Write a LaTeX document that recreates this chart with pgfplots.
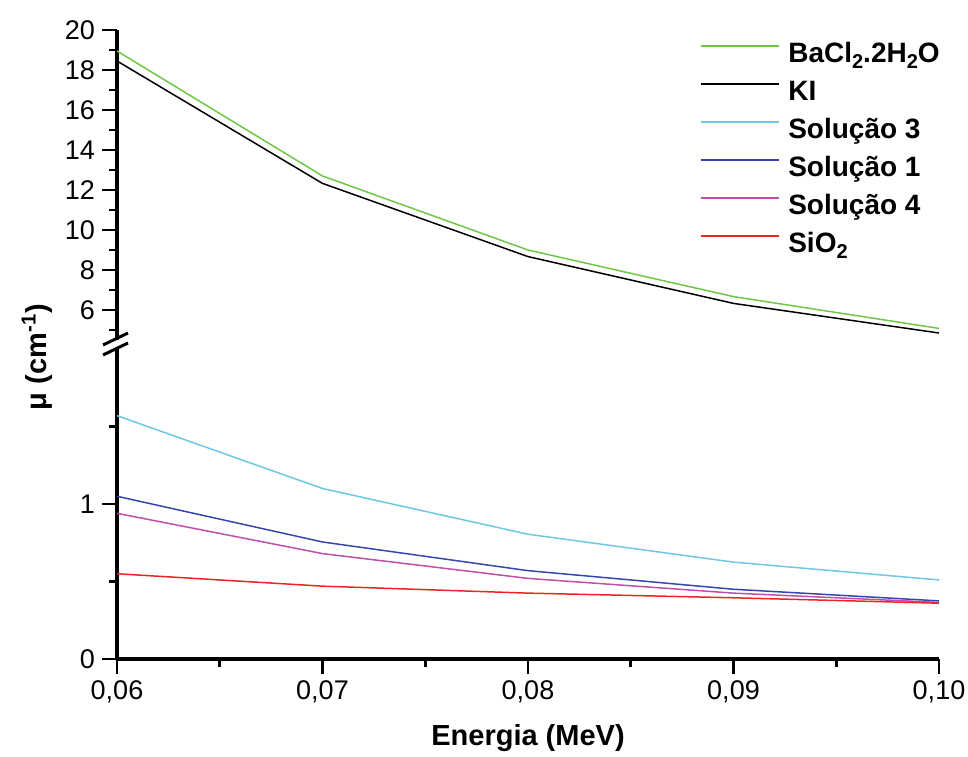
\documentclass[border=0pt]{standalone}
\usepackage{pgfplots}
\pgfplotsset{compat=1.18}
\usepackage{fontspec}
\setmainfont{Liberation Sans}
\definecolor{cgreen}{RGB}{110,200,70}
\definecolor{ccyan}{RGB}{110,200,225}
\definecolor{cblue}{RGB}{55,70,175}
\definecolor{cmag}{RGB}{190,80,170}
\definecolor{cred}{RGB}{240,35,35}
\newcommand{\lsub}[1]{\raisebox{-0.45ex}{\fontsize{10}{11}\selectfont #1}}
\begin{document}
\begin{tikzpicture}
\path[use as bounding box] (-58.5pt,-48.5pt) rectangle (425.5pt,329.5pt);
\pgfplotsset{
  common/.style={
    scale only axis, width=411pt, height=155pt,
    xmin=0.06, xmax=0.10, enlargelimits=false,
    axis line style={line width=1.7pt,-},
    tick style={line width=1.4pt,black},
    major tick length=7.5pt, minor tick length=4pt,
    tick align=outside,
    ticklabel style={font=\fontsize{13.5}{15}\selectfont},
    /pgf/number format/assume math mode=true,
    scaled ticks=false,
    every axis plot/.append style={line width=0.75pt},
  }
}
\begin{axis}[common,
  ymin=0, ymax=2,
  axis x line*=bottom, axis y line*=left,
  xtick={0.06,0.07,0.08,0.09,0.10},
  minor xtick={0.065,0.075,0.085,0.095},
  ytick={0,1}, minor ytick={0.5,1.5},
  xticklabel style={/pgf/number format/.cd, fixed, fixed zerofill, precision=2, use comma},
]
\addplot[ccyan] coordinates {(0.06,1.57) (0.07,1.10) (0.08,0.805) (0.09,0.625) (0.10,0.51)};
\addplot[cblue] coordinates {(0.06,1.05) (0.07,0.755) (0.08,0.57) (0.09,0.45) (0.10,0.375)};
\addplot[cmag] coordinates {(0.06,0.94) (0.07,0.68) (0.08,0.52) (0.09,0.425) (0.10,0.365)};
\addplot[cred] coordinates {(0.06,0.55) (0.07,0.47) (0.08,0.425) (0.09,0.395) (0.10,0.36)};
\end{axis}
\begin{axis}[common,
  at={(0pt,159.5pt)}, anchor=south west,
  ymin=4.5, ymax=20,
  axis x line=none, axis y line*=left,
  ytick={6,8,...,20}, minor ytick={5,7,...,19},
  legend style={draw=none, fill=none, at={(rel axis cs:0.709,0.961)}, anchor=north west,
    inner sep=0pt, outer sep=0pt, font=\fontsize{14}{16}\selectfont\bfseries,
    row sep=6pt, nodes={inner sep=0pt, text height=10pt, text depth=3pt},
    /tikz/every odd column/.append style={column sep=4.5pt}},
  legend cell align=left,
  legend image code/.code={\draw[#1, line width=0.75pt] (0pt,4.5pt) -- (39pt,4.5pt);},
]
\addplot[cgreen] coordinates {(0.06,18.95) (0.07,12.7) (0.08,9.0) (0.09,6.67) (0.10,5.08)};
\addlegendentry{BaCl\lsub{2}.2H\lsub{2}O}
\addplot[black] coordinates {(0.06,18.45) (0.07,12.33) (0.08,8.67) (0.09,6.33) (0.10,4.85)};
\addlegendentry{KI}
\addlegendimage{ccyan}
\addlegendentry{Solução 3}
\addlegendimage{cblue}
\addlegendentry{Solução 1}
\addlegendimage{cmag}
\addlegendentry{Solução 4}
\addlegendimage{cred}
\addlegendentry{SiO\lsub{2}}
\end{axis}
% axis break marks
\draw[line width=1.5pt] (-7pt,157pt) -- (5.5pt,163pt);
\draw[line width=1.5pt] (-7pt,152pt) -- (5.5pt,158pt);
% axis labels
\node[font=\fontsize{14.5}{17}\selectfont\bfseries, anchor=center] at (205.5pt,-39.5pt) {Energia (MeV)};
\node[font=\fontsize{14.5}{17}\selectfont\bfseries, anchor=center, rotate=90] at (-40pt,151pt) {μ (cm\textsuperscript{-1})};
\end{tikzpicture}
\end{document}
